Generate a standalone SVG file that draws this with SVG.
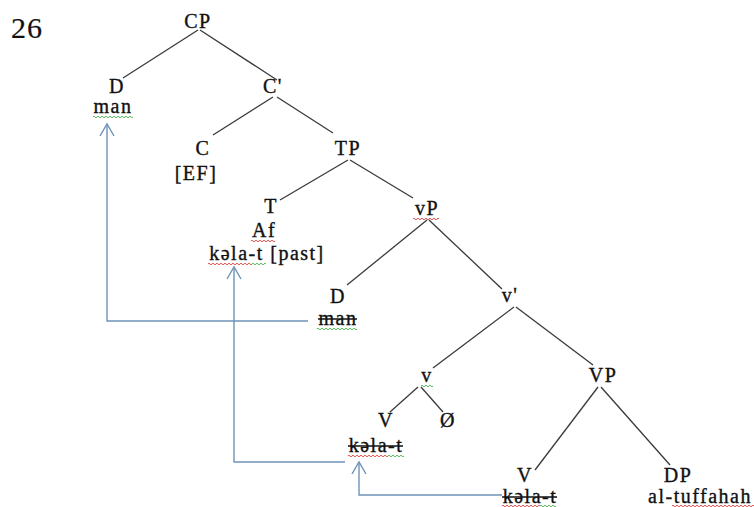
<svg xmlns="http://www.w3.org/2000/svg" width="754" height="507" viewBox="0 0 754 507">
<style>
  .t text { font-size: 20px; letter-spacing: 1.5px; fill: #111111; stroke: #111111; stroke-width: 0.35; text-anchor: middle; }
  .t .num { font-size: 30px; letter-spacing: 1px; text-anchor: start; stroke-width: 0.2; }
  .edge { stroke: #3a3a3a; stroke-width: 1.3; fill: none; }
  .move { stroke: #6f93b8; stroke-width: 1.4; fill: none; }
  .strike { stroke: #111111; stroke-width: 1.3; }
  .wr { stroke: #d9534f; stroke-width: 1; fill: none; }
  .wg { stroke: #5cb85c; stroke-width: 1; fill: none; }
</style>
<rect width="754" height="507" fill="#ffffff"/>
<g class="t" font-family="'Liberation Serif', 'Times New Roman', Tinos, 'DejaVu Serif', 'Noto Serif', serif">
<text class="num" x="11" y="38">26</text>

<g id="connectors">
  <line class="edge" x1="198" y1="30" x2="123" y2="78"/>
  <line class="edge" x1="200" y1="30" x2="277" y2="80"/>
  <line class="edge" x1="273" y1="97" x2="213" y2="135"/>
  <line class="edge" x1="277" y1="97" x2="333" y2="133"/>
  <line class="edge" x1="348" y1="160" x2="280" y2="200"/>
  <line class="edge" x1="350" y1="160" x2="413" y2="198"/>
  <line class="edge" x1="427" y1="220" x2="347" y2="285"/>
  <line class="edge" x1="429" y1="220" x2="502" y2="289"/>
  <line class="edge" x1="514" y1="307" x2="433" y2="368"/>
  <line class="edge" x1="516" y1="307" x2="593" y2="365"/>
  <line class="edge" x1="598" y1="387" x2="535" y2="470"/>
  <line class="edge" x1="601" y1="387" x2="670" y2="465"/>
  <line class="edge" x1="418" y1="387" x2="390" y2="412"/>
  <line class="edge" x1="421" y1="387" x2="443" y2="412"/>
  <polyline class="move" points="308,321 107,321 107,124"/>
  <polyline class="move" points="100,136 107,124 114,136"/>
  <polyline class="move" points="345,462 234,462 234,267"/>
  <polyline class="move" points="227,279 234,267 241,279"/>
  <polyline class="move" points="502,495 359,495 359,462"/>
  <polyline class="move" points="352,474 359,462 366,474"/>
</g>

<g id="CP"><text x="198" y="28">CP</text></g>
<g id="D1"><text x="117" y="93">D</text><text x="113" y="113">man</text>
  <path class="wg" d="M93 117 q1 -1.6 2 0 t2 0 t2 0 t2 0 t2 0 t2 0 t2 0 t2 0 t2 0 t2 0 t2 0 t2 0 t2 0 t2 0 t2 0 t2 0 t2 0 t2 0 t2 0 t2 0"/></g>
<g id="Cbar"><text x="273" y="93">C'</text></g>
<g id="C"><text x="203" y="155">C</text><text x="196" y="180">[EF]</text></g>
<g id="TP"><text x="348" y="155">TP</text></g>
<g id="T"><text x="271" y="213">T</text><text x="264" y="237">Af</text><text x="267" y="260">kəla-t [past]</text>
  <path class="wr" d="M251 241 q1 -1.6 2 0 t2 0 t2 0 t2 0 t2 0 t2 0 t2 0 t2 0 t2 0 t2 0 t2 0 t2 0"/>
  <path class="wr" d="M208 264 q1 -1.6 2 0 t2 0 t2 0 t2 0 t2 0 t2 0 t2 0 t2 0 t2 0 t2 0 t2 0 t2 0 t2 0 t2 0 t2 0 t2 0 t2 0 t2 0 t2 0 t2 0 t2 0 t2 0"/>
  <path class="wg" d="M252 264 q1 -1.6 2 0 t2 0 t2 0 t2 0 t2 0 t2 0 t2 0"/></g>
<g id="vP"><text x="427" y="215">vP</text>
  <path class="wr" d="M413 219 q1 -1.6 2 0 t2 0 t2 0 t2 0 t2 0 t2 0 t2 0 t2 0 t2 0 t2 0 t2 0 t2 0 t2 0"/></g>
<g id="D2"><text x="338" y="303">D</text><text x="338" y="325">man</text>
  <line class="strike" x1="318" y1="319" x2="357" y2="319"/>
  <path class="wg" d="M317 329 q1 -1.6 2 0 t2 0 t2 0 t2 0 t2 0 t2 0 t2 0 t2 0 t2 0 t2 0 t2 0 t2 0 t2 0 t2 0 t2 0 t2 0 t2 0 t2 0 t2 0 t2 0"/></g>
<g id="vbar"><text x="510" y="302">v'</text></g>
<g id="v"><text x="427" y="382">v</text>
  <path class="wg" d="M421 386 q1 -1.6 2 0 t2 0 t2 0 t2 0 t2 0 t2 0"/></g>
<g id="VP"><text x="603" y="382">VP</text></g>
<g id="V1"><text x="386" y="427">V</text><text x="376" y="452">kəla-t</text>
  <line class="strike" x1="348" y1="446" x2="403" y2="446"/>
  <path class="wr" d="M348 456 q1 -1.6 2 0 t2 0 t2 0 t2 0 t2 0 t2 0 t2 0 t2 0 t2 0 t2 0 t2 0 t2 0 t2 0 t2 0 t2 0 t2 0 t2 0 t2 0 t2 0 t2 0"/>
  <path class="wg" d="M388 456 q1 -1.6 2 0 t2 0 t2 0 t2 0 t2 0 t2 0 t2 0 t2 0"/></g>
<g id="null"><text x="448" y="427">Ø</text></g>
<g id="V2"><text x="525" y="482">V</text><text x="530" y="503">kəla-t</text>
  <line class="strike" x1="502" y1="497" x2="557" y2="497"/>
  <path class="wr" d="M502 506 q1 -1.6 2 0 t2 0 t2 0 t2 0 t2 0 t2 0 t2 0 t2 0 t2 0 t2 0 t2 0 t2 0 t2 0 t2 0 t2 0 t2 0 t2 0 t2 0 t2 0"/>
  <path class="wg" d="M540 506 q1 -1.6 2 0 t2 0 t2 0 t2 0 t2 0 t2 0 t2 0 t2 0"/></g>
<g id="DP"><text x="678" y="482">DP</text><text x="700" y="503">al-tuffahah</text>
  <path class="wr" d="M672 506 q1 -1.6 2 0 t2 0 t2 0 t2 0 t2 0 t2 0 t2 0 t2 0 t2 0 t2 0 t2 0 t2 0 t2 0 t2 0 t2 0 t2 0 t2 0 t2 0 t2 0 t2 0 t2 0 t2 0 t2 0 t2 0 t2 0 t2 0 t2 0 t2 0 t2 0 t2 0 t2 0 t2 0 t2 0 t2 0 t2 0 t2 0 t2 0 t2 0 t2 0 t2 0 t2 0"/></g>
</g>
</svg>
